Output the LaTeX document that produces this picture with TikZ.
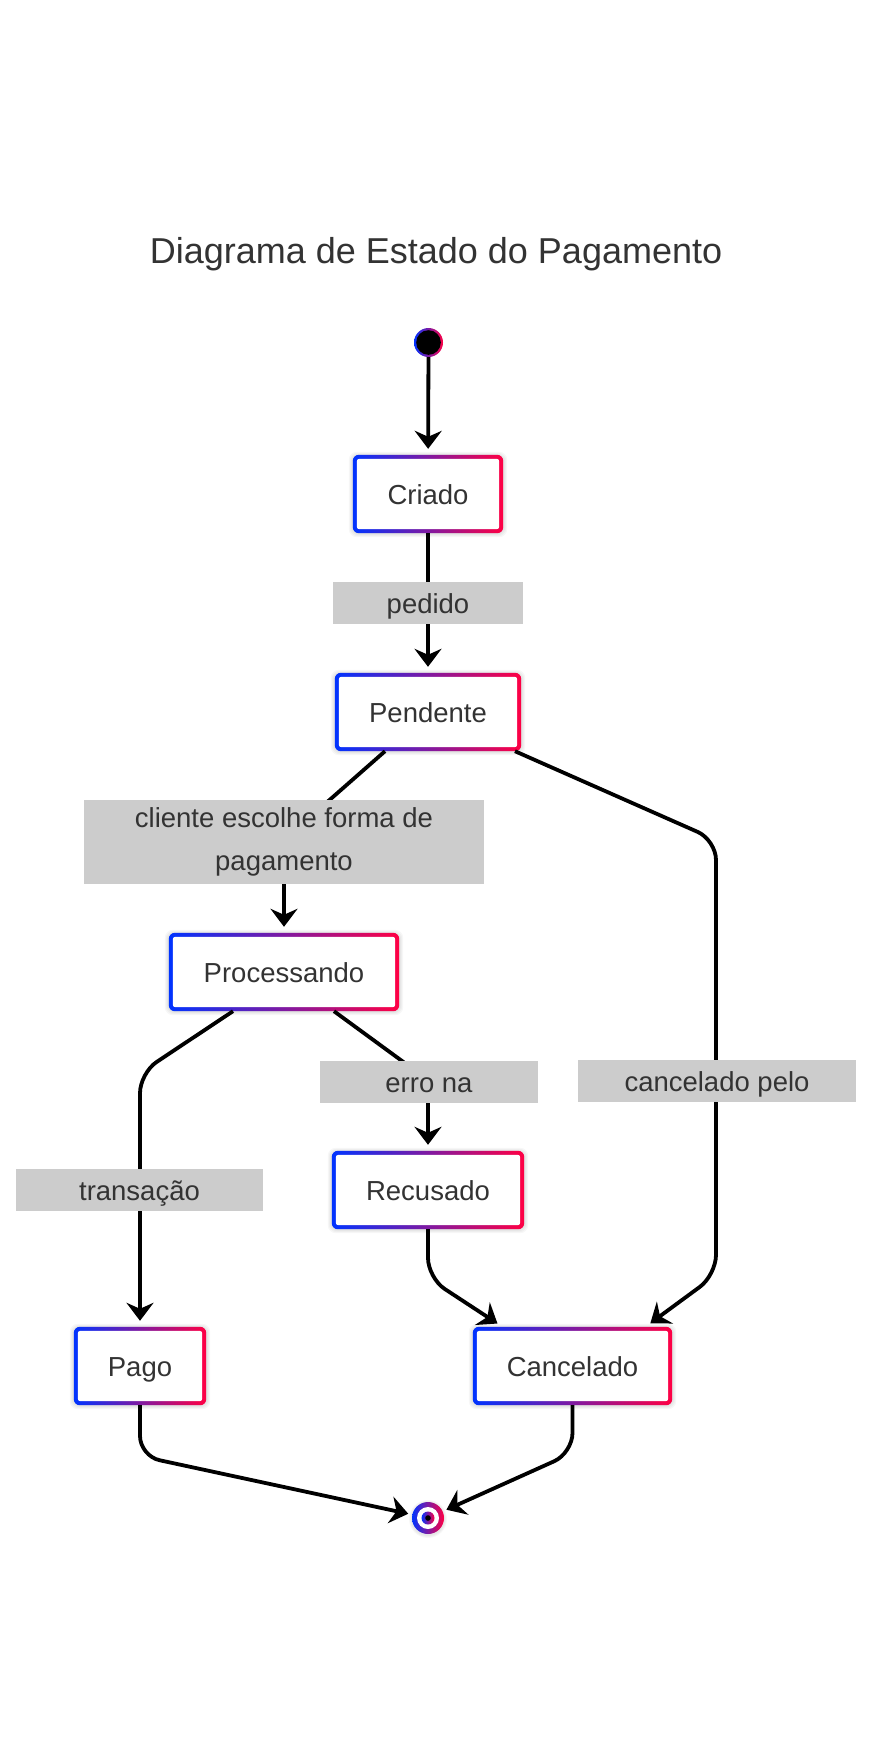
\documentclass[tikz,border=0pt]{standalone}
\usepackage{fontspec}
\setmainfont{Liberation Sans}
\usetikzlibrary{arrows.meta}
\definecolor{cb}{RGB}{0,51,255}
\definecolor{cr}{RGB}{255,0,68}
\definecolor{tx}{HTML}{333333}
\definecolor{lg}{HTML}{CCCCCC}
\pgfdeclarelayer{bg}
\pgfdeclarelayer{edges}
\pgfsetlayers{bg,edges,main}
\tikzset{
  statebox/.style={minimum height=78pt, inner sep=0pt, text=tx,
    font=\fontsize{27.5pt}{33pt}\selectfont, text height=20pt, text depth=0pt},
  lbl/.style={fill=lg, minimum height=42pt, inner sep=0pt, text=tx,
    font=\fontsize{27.5pt}{43pt}\selectfont},
  oneline/.style={text height=20pt, text depth=0pt},
  edge/.style={line width=3.8pt, rounded corners=20pt,
    -{Stealth[length=18pt,width=27pt,inset=6pt]}, shorten >=6pt},
  dot/.style={circle, inner sep=0pt}
}
\begin{document}
\begin{tikzpicture}[x=1pt,y=-1pt]
\useasboundingbox (0,0) rectangle (871,1762);

\node[font=\fontsize{36pt}{43pt}\selectfont, text=tx, anchor=base] (title) at (436,263) {Diagrama de Estado do Pagamento};

% states
\node[dot, minimum size=29pt] (start) at (428.5,342.5) {};
\node[statebox, minimum width=150pt] (criado) at (428,494) {Criado};
\node[statebox, minimum width=186pt] (pendente) at (428,712) {Pendente};
\node[statebox, minimum width=230pt] (proc) at (284,972) {Processando};
\node[statebox, minimum width=192pt] (recusado) at (428,1190) {Recusado};
\node[statebox, minimum width=132pt] (pago) at (140,1366) {Pago};
\node[statebox, minimum width=199pt] (cancelado) at (572.5,1366) {Cancelado};
\node[dot, minimum size=32pt] (end) at (428,1518) {};

% bends
\coordinate (b1) at (284,840);
\coordinate (b2) at (716,840);
\coordinate (b3) at (716,1275);
\coordinate (b4) at (140,1073);
\coordinate (b5) at (428,1080);
\coordinate (b6) at (428,1278);
\coordinate (b7) at (140,1456);
\coordinate (b8) at (572.5,1453);

\begin{pgfonlayer}{bg}
  \fill[white] (0,0) rectangle (871,1762);
  \foreach \n in {criado,pendente,proc,recusado,pago,cancelado}{
    \foreach \s in {1,2,3,4}{
      \fill[black, opacity=0.03, rounded corners=8pt]
        ([xshift=-\s pt, yshift=-\s pt]\n.south west) rectangle ([xshift=\s pt, yshift=\s pt-1pt]\n.north east);
    }
    \shade[left color=cb, right color=cr, rounded corners=6pt] (\n.south west) rectangle (\n.north east);
    \fill[white, rounded corners=2.5pt] ([xshift=4pt,yshift=-4pt]\n.north west) rectangle ([xshift=-4pt,yshift=4pt]\n.south east);
  }
  \shade[left color=cb, right color=cr] (start.center) circle[radius=14.5pt];
  \fill[black] (start.center) circle[radius=12.3pt];
  \foreach \s in {1,2,3}{
    \fill[black, opacity=0.03] ([yshift=-1pt]end.center) circle[radius=16pt+\s pt];
  }
  \shade[left color=cb, right color=cr] (end.center) circle[radius=16pt];
  \fill[white] (end.center) circle[radius=11pt];
  \shade[left color=cb, right color=cr] (end.center) circle[radius=6.5pt];
  \fill[black] (end.center) circle[radius=2.8pt];
\end{pgfonlayer}

\begin{pgfonlayer}{edges}
  \draw[edge] (start) -- (criado);
  \draw[edge] (criado) -- (pendente);
  \draw[edge] ([xshift=-43pt]pendente.south) -- (b1) -- (proc);
  \draw[edge] ([xshift=87pt]pendente.south) -- (b2) -- (b3) -- ([xshift=73pt]cancelado.north);
  \draw[edge] ([xshift=-51pt]proc.south) -- (b4) -- (pago);
  \draw[edge] ([xshift=50pt]proc.south) -- (b5) -- (recusado);
  \draw[edge] (recusado) -- (b6) -- ([xshift=-70pt]cancelado.north);
  \draw[edge, shorten >=4pt] (pago) -- (b7) -- (end);
  \draw[edge, shorten >=4pt] (cancelado) -- (b8) -- (end);
\end{pgfonlayer}

% labels
\node[lbl, oneline, minimum width=190pt] (lpedido) at (428,603) {pedido};
\node[lbl, minimum width=400pt, minimum height=84pt, align=center] (lcliente) at (284,842) {cliente escolhe forma de\\pagamento};
\node[lbl, oneline, minimum width=247pt] (ltrans) at (139.5,1190) {transação};
\node[lbl, oneline, minimum width=218pt] (lerro) at (429,1082) {erro na};
\node[lbl, oneline, minimum width=278pt] (lcanc) at (717,1081) {cancelado pelo};
\end{tikzpicture}
\end{document}
